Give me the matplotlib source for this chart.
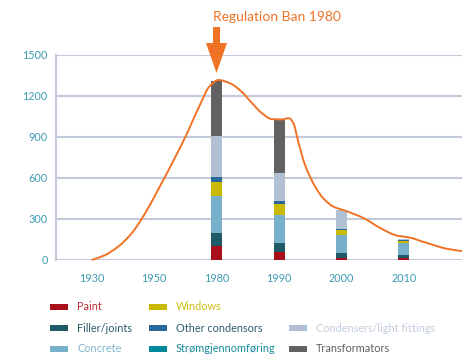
import matplotlib
matplotlib.use("Agg")
import matplotlib.pyplot as plt
from matplotlib.path import Path
from matplotlib.patches import PathPatch, Rectangle, FancyArrow
import numpy as np

plt.rcParams['font.family'] = ['Lato', 'DejaVu Sans']

# Tick categories along the x axis
years = ["1930", "1950", "1980", "1990", "2000", "2010"]
bar_years = ["1980", "1990", "2000", "2010"]

# Stacked components (tonnes) per bar year
paint = [100, 60, 17, 15]
filler_joints = [95, 66, 36, 22]
concrete = [270, 203, 130, 87]
windows = [103, 82, 36, 15]
other_condensors = [36, 20, 10, 9]
condensers_light = [300, 207, 136, 7]
stromgjennomforing = [0, 0, 0, 0]
transformators = [405, 382, 0, 0]

# Total-use curve, sampled along the category axis (position, value)
curve_pos = [0.0, 0.21, 0.43, 0.64, 0.80, 1.17, 1.50, 1.74, 1.88, 2.03,
             2.22, 2.40, 2.56, 2.72, 2.88, 3.04, 3.16, 3.23, 3.31, 3.42,
             3.58, 3.71, 3.87, 4.06, 4.35, 4.62, 4.89, 5.07, 5.37, 5.69,
             5.95]
curve_val = [0, 35, 100, 195, 300, 605, 900, 1140, 1265, 1315,
             1290, 1230, 1150, 1075, 1030, 1027, 1036, 1000, 860, 690,
             535, 450, 390, 360, 307, 234, 178, 166, 124, 82,
             64]

y_ticks = [0, 300, 600, 900, 1200, 1500]

series = [
    ("Paint", paint, "#a90f1a"),
    ("Filler/joints", filler_joints, "#1f5b66"),
    ("Concrete", concrete, "#78b0ca"),
    ("Windows", windows, "#c9b900"),
    ("Other condensors", other_condensors, "#2a679a"),
    ("Condensers/light fittings", condensers_light, "#b1c1d3"),
    ("Strømgjennomføring", stromgjennomforing, "#008a9c"),
    ("Transformators", transformators, "#626262"),
]
text_colors = {
    "Paint": "#c0303a",
    "Windows": "#cdbd10",
    "Filler/joints": "#2c5f6a",
    "Other condensors": "#2f5a70",
    "Condensers/light fittings": "#c2cedc",
    "Concrete": "#82b6cc",
    "Strømgjennomføring": "#16899c",
    "Transformators": "#5e5e5e",
}

W, H = 462, 355
fig = plt.figure(figsize=(W / 100, H / 100), dpi=100)
ax = fig.add_axes([56 / W, 1 - 260 / H, 1 - 56 / W, (260 - 54.7) / H])

grid_c = "#c3cadb"
tick_c = "#3d9bb3"
orange = "#f07224"

ax.set_xlim(-0.572, 5.93)
ax.set_ylim(0, 1500)
for s in ["top", "right", "bottom"]:
    ax.spines[s].set_visible(False)
ax.spines["left"].set_color(grid_c)
ax.spines["left"].set_linewidth(1.5)
ax.set_yticks(y_ticks)
ax.set_yticklabels([str(v) for v in y_ticks])
ax.yaxis.grid(True, color=grid_c, linewidth=1.5)
ax.set_axisbelow(True)
ax.tick_params(axis="y", length=0, pad=6, labelsize=7.8, labelcolor=tick_c)
ax.set_xticks(range(len(years)))
ax.set_xticklabels(years)
ax.tick_params(axis="x", length=0, pad=9, labelsize=7.8, labelcolor=tick_c)

# Stacked bars
xpos = [years.index(y) for y in bar_years]
bottom = np.zeros(len(bar_years))
for name, vals, col in series:
    ax.bar(xpos, vals, width=0.176, bottom=bottom, color=col, linewidth=0,
           zorder=2)
    bottom += np.array(vals, dtype=float)

# Smooth curve through the sampled points: monotone cubic (Fritsch-Carlson)
# tangents, drawn as cubic Bezier segments
x = np.asarray(curve_pos, dtype=float)
y = np.asarray(curve_val, dtype=float)
h = np.diff(x)
d = np.diff(y) / h
m = np.zeros_like(y)
m[0], m[-1] = d[0], d[-1]
for i in range(1, len(y) - 1):
    if d[i - 1] * d[i] <= 0:
        m[i] = 0.0
    else:
        w1 = 2 * h[i] + h[i - 1]
        w2 = h[i] + 2 * h[i - 1]
        m[i] = (w1 + w2) / (w1 / d[i - 1] + w2 / d[i])
verts = [(x[0], y[0])]
codes = [Path.MOVETO]
for i in range(len(x) - 1):
    verts += [(x[i] + h[i] / 3, y[i] + m[i] * h[i] / 3),
              (x[i + 1] - h[i] / 3, y[i + 1] - m[i + 1] * h[i] / 3),
              (x[i + 1], y[i + 1])]
    codes += [Path.CURVE4] * 3
ax.add_patch(PathPatch(Path(verts, codes), fill=False, edgecolor=orange,
                       linewidth=1.4, zorder=3, clip_on=False))

# Annotation arrow and label
fig.patches.append(FancyArrow(216.5 / W, 1 - 27 / H, 0, -(73 - 27) / H,
                              width=7 / W, head_width=21 / W,
                              head_length=30 / H, length_includes_head=True,
                              color=orange, transform=fig.transFigure,
                              figure=fig, linewidth=0))
fig.text(213 / W, 1 - 17 / H, "Regulation Ban 1980", color=orange,
         fontsize=10, va="center", ha="left")

# Legend
legend_layout = [
    ("Paint", 0, 0), ("Windows", 1, 0),
    ("Filler/joints", 0, 1), ("Other condensors", 1, 1),
    ("Condensers/light fittings", 2, 1),
    ("Concrete", 0, 2), ("Strømgjennomføring", 1, 2),
    ("Transformators", 2, 2),
]
col_x = [50, 149, 289]
row_y = [307, 328, 349]
colors = {n: c for n, _, c in series}
for name, c, r in legend_layout:
    x0, y0 = col_x[c], row_y[r]
    fig.patches.append(Rectangle((x0 / W, 1 - (y0 + 3) / H), 18 / W, 6 / H,
                                 transform=fig.transFigure, figure=fig,
                                 color=colors[name], linewidth=0))
    fig.text((x0 + 27) / W, 1 - y0 / H, name, color=text_colors[name],
             fontsize=7.8, va="center", ha="left")

fig.savefig("out.png", dpi=100)
